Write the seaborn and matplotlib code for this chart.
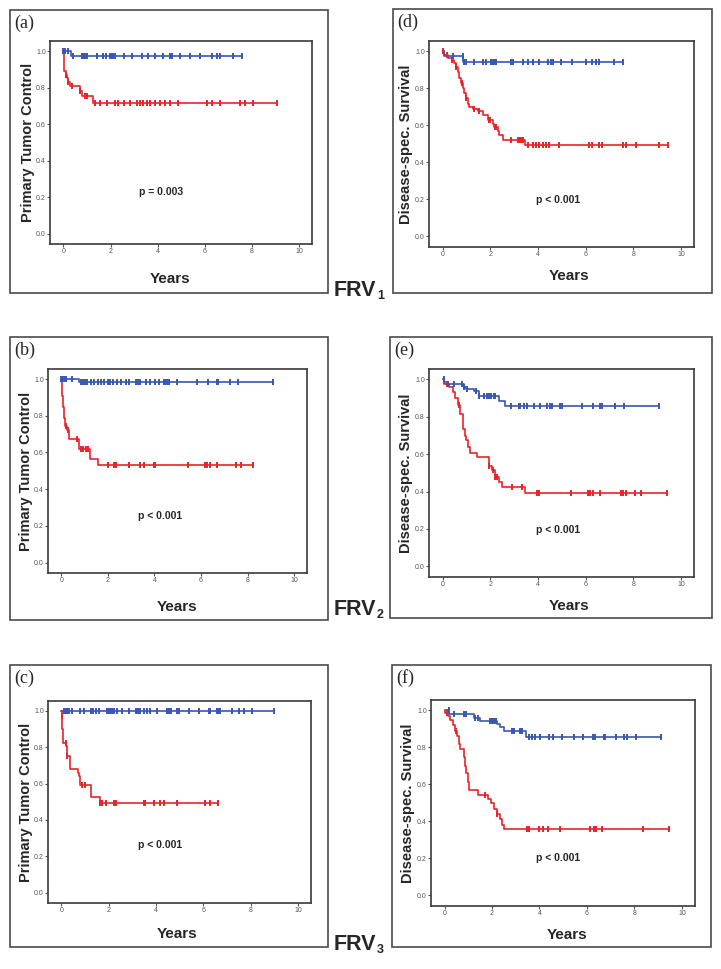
import numpy as np
import pandas as pd
import seaborn as sns
import matplotlib.pyplot as plt
from matplotlib.patches import Rectangle

# ---- data (time in years, survival fraction) ----
# (a) FRV1 primary tumor control
a_blue_t = [0, 0.33]
a_blue_s = [1.0, 0.973]
a_blue_c = [0.0, 0.08, 0.21, 0.4, 0.78, 0.85, 0.92, 0.99, 1.41, 1.7, 1.81, 1.98, 2.05, 2.12, 2.19,
            2.55, 2.9, 3.32, 3.61, 3.89, 4.24, 4.53, 4.6, 4.95, 5.37, 5.8, 6.29, 6.51, 6.65, 7.21, 7.6]
a_red_t = [0, 0.03, 0.1, 0.17, 0.2, 0.3, 0.7, 0.8, 1.25]
a_red_s = [1.0, 0.89, 0.87, 0.85, 0.83, 0.81, 0.78, 0.755, 0.716]
a_red_c = [0.11, 0.21, 0.35, 0.71, 0.92, 1.02, 1.34, 1.56, 1.84, 2.19, 2.33, 2.55, 2.83, 3.11, 3.25,
           3.39, 3.54, 3.68, 3.89, 4.1, 4.31, 4.53, 4.88, 6.08, 6.29, 6.65, 7.5, 7.71, 8.06, 9.05]

# (d) FRV1 disease-specific survival
d_blue_t = [0, 0.05, 0.87]
d_blue_s = [1.0, 0.975, 0.944]
d_blue_c = [0.42, 0.84, 0.91, 0.98, 1.33, 1.68, 1.82, 2.03, 2.1, 2.17, 2.24, 2.87, 2.94, 3.36, 3.57,
            3.78, 4.06, 4.41, 4.55, 4.62, 4.97, 5.45, 6.01, 6.29, 6.43, 6.57, 7.2, 7.58]
d_red_t = [0, 0.07, 0.21, 0.39, 0.49, 0.56, 0.64, 0.7, 0.77, 0.84, 0.91, 0.98, 1.05, 1.12, 1.26,
           1.47, 1.68, 1.89, 2.1, 2.17, 2.31, 2.38, 2.52, 3.45]
d_red_s = [1.0, 0.98, 0.965, 0.955, 0.935, 0.915, 0.89, 0.856, 0.83, 0.8, 0.773, 0.745, 0.714, 0.7,
           0.69, 0.675, 0.655, 0.63, 0.605, 0.59, 0.57, 0.55, 0.522, 0.496]
d_red_c = [0.03, 0.2, 0.4, 0.56, 0.81, 0.98, 1.33, 1.54, 1.93, 1.98, 2.2, 2.25, 2.87, 3.15, 3.22,
           3.29, 3.36, 3.57, 3.78, 3.92, 4.06, 4.2, 4.34, 4.48, 4.9, 6.15, 6.29, 6.57, 6.71, 7.55,
           7.69, 8.11, 9.09, 9.44]

# (b) FRV2 primary tumor control
b_blue_t = [0, 0.75]
b_blue_s = [1.0, 0.982]
b_blue_c = [0.0, 0.07, 0.14, 0.21, 0.47, 0.85, 0.92, 1.02, 1.11, 1.28, 1.42, 1.56, 1.7, 1.84, 1.99,
            2.1, 2.2, 2.41, 2.55, 2.77, 2.91, 3.19, 3.29, 3.4, 3.62, 3.83, 4.04, 4.18, 4.4, 4.47,
            4.54, 4.61, 4.96, 5.82, 6.31, 6.67, 6.74, 7.23, 7.59, 9.08]
b_red_t = [0, 0.03, 0.07, 0.11, 0.18, 0.24, 0.34, 0.74, 0.78, 1.25, 1.56]
b_red_s = [1.0, 0.91, 0.85, 0.79, 0.745, 0.72, 0.674, 0.655, 0.62, 0.563, 0.532]
b_red_c = [0.21, 0.28, 0.68, 0.85, 0.92, 1.06, 1.16, 1.99, 2.27, 2.34, 2.91, 3.4, 3.55, 3.97, 4.04,
           5.46, 6.17, 6.24, 6.38, 6.67, 7.52, 7.73, 8.23]

# (e) FRV2 disease-specific survival
e_blue_t = [0, 0.08, 0.9, 1.0, 1.32, 1.53, 2.36, 2.6]
e_blue_s = [1.0, 0.975, 0.96, 0.95, 0.935, 0.912, 0.885, 0.856]
e_blue_c = [0.07, 0.24, 0.46, 0.83, 0.9, 1.01, 1.39, 1.53, 1.74, 1.85, 1.94, 2.04, 2.15, 2.22, 2.85,
            3.19, 3.26, 3.4, 3.54, 3.82, 4.1, 4.38, 4.51, 4.58, 4.93, 5.0, 5.83, 6.32, 6.6, 6.71,
            7.22, 7.6, 9.07]
e_red_t = [0, 0.07, 0.18, 0.28, 0.42, 0.53, 0.63, 0.74, 0.86, 0.93, 0.99, 1.07, 1.15, 1.43, 1.94,
           2.08, 2.22, 2.36, 2.5, 3.47]
e_red_s = [1.0, 0.985, 0.975, 0.96, 0.93, 0.9, 0.86, 0.817, 0.735, 0.695, 0.673, 0.637, 0.605,
           0.583, 0.539, 0.515, 0.476, 0.449, 0.422, 0.39]
e_red_c = [0.18, 0.24, 0.69, 1.94, 2.13, 2.22, 2.29, 2.92, 3.33, 3.96, 4.03, 5.38, 6.11, 6.18, 6.32,
           6.6, 7.5, 7.57, 7.71, 8.06, 8.33, 9.4]

# (c) FRV3 primary tumor control
c_blue_t = [0]
c_blue_s = [1.0]
c_blue_c = [0.1, 0.17, 0.24, 0.31, 0.45, 0.8, 0.94, 1.23, 1.34, 1.44, 1.58, 1.93, 2.0, 2.07, 2.14,
            2.21, 2.35, 2.56, 2.85, 3.13, 3.23, 3.34, 3.51, 3.62, 3.76, 4.04, 4.46, 4.54, 4.61,
            4.89, 4.96, 5.38, 5.8, 6.23, 6.3, 6.58, 6.65, 6.72, 7.21, 7.49, 7.7, 8.06, 9.0]
c_red_t = [0, 0.02, 0.04, 0.07, 0.2, 0.24, 0.35, 0.69, 0.75, 0.8, 1.25, 1.62]
c_red_s = [1.0, 0.973, 0.9, 0.823, 0.805, 0.751, 0.678, 0.66, 0.64, 0.591, 0.529, 0.493]
c_red_c = [0.03, 0.17, 0.24, 0.87, 1.01, 1.64, 1.72, 1.9, 2.21, 2.32, 3.48, 3.55, 3.93, 4.15, 4.32,
           4.89, 6.08, 6.27, 6.61]

# (f) FRV3 disease-specific survival
f_blue_t = [0, 0.2, 1.25, 1.5, 2.2, 2.35, 2.5, 3.45]
f_blue_s = [1.0, 0.982, 0.96, 0.94, 0.925, 0.91, 0.889, 0.853]
f_blue_c = [0.17, 0.38, 0.8, 0.91, 1.29, 1.39, 1.92, 2.0, 2.09, 2.18, 2.84, 2.91, 3.16, 3.26, 3.54,
            3.68, 3.82, 4.03, 4.42, 4.56, 4.94, 5.44, 5.83, 6.25, 6.35, 6.7, 6.77, 7.23, 7.54,
            7.68, 8.08, 9.12]
f_red_t = [0, 0.03, 0.13, 0.24, 0.35, 0.42, 0.52, 0.6, 0.66, 0.83, 0.87, 0.91, 0.97, 1.05, 1.43,
           1.85, 1.95, 2.09, 2.2, 2.32, 2.42, 2.51]
f_red_s = [1.0, 0.985, 0.97, 0.945, 0.92, 0.887, 0.86, 0.82, 0.788, 0.75, 0.7, 0.659, 0.614, 0.569,
           0.542, 0.52, 0.497, 0.465, 0.44, 0.41, 0.38, 0.357]
f_red_c = [0.1, 0.49, 1.71, 2.23, 3.47, 3.54, 3.96, 4.14, 4.35, 4.87, 6.14, 6.28, 6.39, 6.63, 8.38,
           9.44]

letters = ["(a)", "(d)", "(b)", "(e)", "(c)", "(f)"]
ylabels = ["Primary Tumor Control", "Disease-spec. Survival"] * 3
p_texts = ["p = 0.003", "p < 0.001", "p < 0.001", "p < 0.001", "p < 0.001", "p < 0.001"]
p_pos = [(4.16, 0.228), (4.83, 0.198), (4.23, 0.255), (4.86, 0.194), (4.15, 0.26), (4.8, 0.2)]
frv_subs = ["1", "2", "3"]

BLUE = "#3a56b2"
RED = "#e8232a"

# pixel layout: outer box and axes box (x0, y0, x1, y1)
boxes = [(10, 10, 328, 293), (393, 9, 712, 293),
         (10, 337, 328, 620), (390, 337, 712, 618),
         (10, 665, 328, 947), (392, 665, 711, 947)]
axboxes = [(50, 41, 312, 244), (429, 41, 694, 247),
           (48, 369, 307, 573), (429, 369, 694, 577),
           (48, 701, 311, 903), (431, 700, 695, 906)]
xlab_pos = [(0.46, -0.14), (0.53, -0.107), (0.5, -0.13), (0.53, -0.107), (0.49, -0.12), (0.515, -0.107)]
ylab_x = [-0.057, -0.06, -0.057, -0.06, -0.057, -0.06]
frv_pos = [(334, 296), (334, 615), (334, 950)]

W, H = 721, 969
sns.set_style("white")
plt.rcParams["font.family"] = ["Liberation Sans", "DejaVu Sans"]

fig = plt.figure(figsize=(W / 100, H / 100), dpi=100)


def km(ax, t, s, c, color):
    df = pd.DataFrame({"t": list(t) + [c[-1]], "s": list(s) + [s[-1]]})
    sns.lineplot(data=df, x="t", y="s", drawstyle="steps-post", color=color, lw=1.2,
                 estimator=None, sort=False, ax=ax)
    idx = np.searchsorted(t, c, side="right") - 1
    cdf = pd.DataFrame({"t": c, "s": np.array(s)[idx]})
    sns.scatterplot(data=cdf, x="t", y="s", marker="|", s=22, color=color,
                    linewidth=1.4, ax=ax, zorder=3)


curves = [(a_blue_t, a_blue_s, a_blue_c, a_red_t, a_red_s, a_red_c),
          (d_blue_t, d_blue_s, d_blue_c, d_red_t, d_red_s, d_red_c),
          (b_blue_t, b_blue_s, b_blue_c, b_red_t, b_red_s, b_red_c),
          (e_blue_t, e_blue_s, e_blue_c, e_red_t, e_red_s, e_red_c),
          (c_blue_t, c_blue_s, c_blue_c, c_red_t, c_red_s, c_red_c),
          (f_blue_t, f_blue_s, f_blue_c, f_red_t, f_red_s, f_red_c)]

for i in range(6):
    bx0, by0, bx1, by1 = boxes[i]
    fig.patches.append(Rectangle((bx0 / W, 1 - by1 / H), (bx1 - bx0) / W, (by1 - by0) / H,
                                 transform=fig.transFigure, fill=False,
                                 edgecolor="#4a4a4a", lw=1.2))
    fig.text((bx0 + 4) / W, 1 - (by0 + 13) / H, letters[i], family="Liberation Serif",
             fontsize=13, va="center", ha="left")

    x0, y0, x1, y1 = axboxes[i]
    ax = fig.add_axes([x0 / W, 1 - y1 / H, (x1 - x0) / W, (y1 - y0) / H])
    bt, bs, bc, rt, rs, rc = curves[i]
    km(ax, rt, rs, rc, RED)
    km(ax, bt, bs, bc, BLUE)

    ax.set_xlim(-0.57, 10.55)
    ax.set_ylim(-0.057, 1.055)
    ax.set_xticks(np.arange(0, 11, 2))
    ax.set_yticks(np.arange(0, 1.01, 0.2))
    ax.set_yticklabels([f"{v:.1f}" for v in np.arange(0, 1.01, 0.2)])
    ax.tick_params(axis="both", labelsize=5, colors="#555555", length=2, width=0.8,
                   direction="out", pad=1, left=True, bottom=True)
    for sp in ax.spines.values():
        sp.set_color("#3a3a3a")
        sp.set_linewidth(1.2)
    ax.set_xlabel("Years", fontsize=11, fontweight="bold")
    ax.xaxis.set_label_coords(*xlab_pos[i])
    ax.set_ylabel(ylabels[i], fontsize=10.5, fontweight="bold")
    ax.yaxis.set_label_coords(ylab_x[i], 0.5)
    px, py = p_pos[i]
    ax.text(px, py, p_texts[i], fontsize=7.5, fontweight="bold", ha="center", va="center")

for (fx, fy), sub in zip(frv_pos, frv_subs):
    fig.text(fx / W, 1 - fy / H, "FRV", fontsize=15.5, fontweight="bold", va="baseline")
    fig.text((fx + 43) / W, 1 - (fy + 3) / H, sub, fontsize=9, fontweight="bold", va="baseline")

fig.savefig("out.png", dpi=100)
